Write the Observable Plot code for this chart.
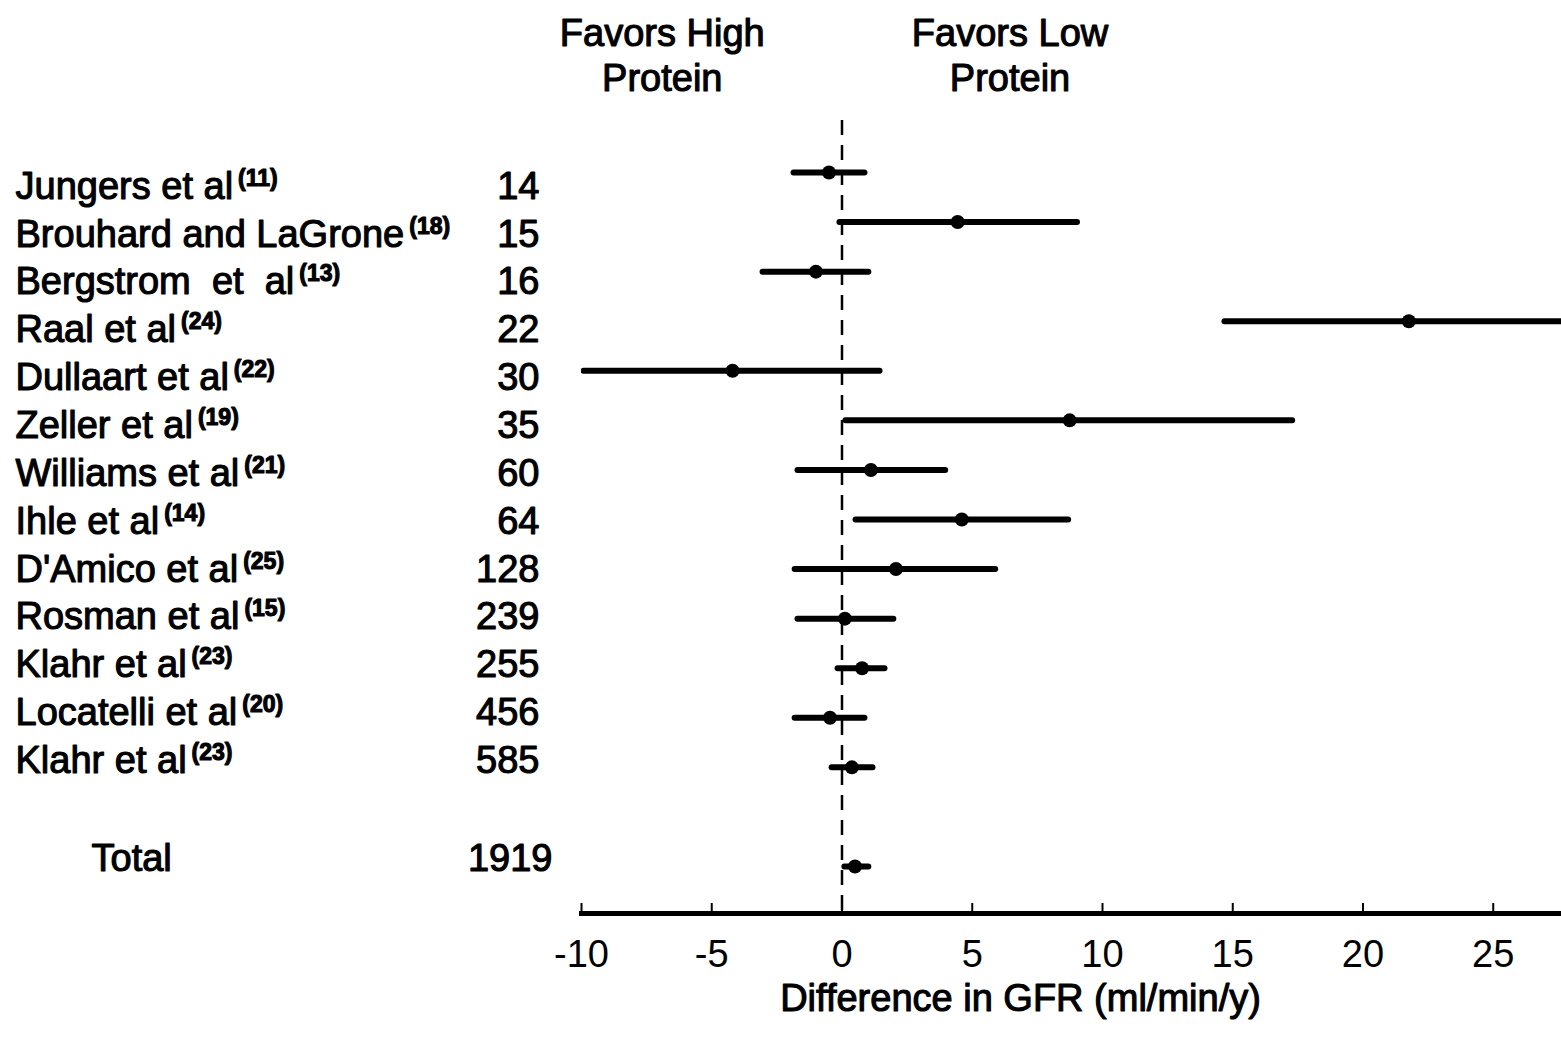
<!DOCTYPE html>
<html><head><meta charset="utf-8">
<script src="https://cdn.jsdelivr.net/npm/d3@7"></script>
<script src="https://cdn.jsdelivr.net/npm/@observablehq/plot@0.6"></script>
<style>html,body{margin:0;padding:0;background:#fff;overflow:hidden}
#chart{position:relative;width:1561px;height:1040px}
#chart svg{position:absolute;left:0;top:0}
</style>
</head><body><div id="chart"></div>
<script>
// ---- data ----
const studies = ["Jungers et al", "Brouhard and LaGrone", "Bergstrom\u00a0 et\u00a0 al", "Raal et al", "Dullaart et al", "Zeller et al", "Williams et al", "Ihle et al", "D'Amico et al", "Rosman et al", "Klahr et al", "Locatelli et al", "Klahr et al"];
const refs = ["(11)", "(18)", "(13)", "(24)", "(22)", "(19)", "(21)", "(14)", "(25)", "(15)", "(23)", "(20)", "(23)"];
const sampleSizes = [14, 15, 16, 22, 30, 35, 60, 64, 128, 239, 255, 456, 585];
const estimates = [-0.5, 4.44, -1.0, 21.76, -4.2, 8.74, 1.11, 4.6, 2.07, 0.11, 0.77, -0.46, 0.38];
const lower = [-1.84, -0.08, -3.03, 14.7, -9.9, 0.15, -1.69, 0.54, -1.8, -1.69, -0.15, -1.8, -0.38];
const upper = [0.88, 9.04, 1.03, 29, 1.46, 17.3, 3.98, 8.7, 5.9, 1.99, 1.65, 0.88, 1.19];
const totalLabel = "Total";
const totalN = 1919;
const totalEst = 0.5, totalLower = 0.11, totalUpper = 1.03;
const xTicks = [-10, -5, 0, 5, 10, 15, 20, 25];
const headerLabels = ["Favors High\nProtein", "Favors Low\nProtein"];
const headerCenters = [-6.9, 6.45];
const axisTitle = "Difference in GFR (ml/min/y)";

// ---- table ----
const rows = studies.map((name, i) => ({name, ref: refs[i], n: sampleSizes[i], est: estimates[i], lo: lower[i], hi: upper[i], row: i}));
const totalRow = [{name: totalLabel, n: totalN, est: totalEst, lo: totalLower, hi: totalUpper, row: studies.length + 1}];
const allRows = rows.concat(totalRow);
const headers = headerLabels.map((t, i) => ({t, x: headerCenters[i]}));

const FONT = 38;
const txt = {fill: "black", stroke: "black", strokeWidth: 1.1, fontSize: FONT};
const fontStyle = {fontFamily: "'Liberation Sans', Arial, sans-serif", background: "transparent", overflow: "visible"};

// main forest plot
const chart = Plot.plot({
  width: 1561,
  height: 1040,
  marginLeft: 581,
  marginRight: 0,
  marginTop: 120,
  marginBottom: 127,
  style: {...fontStyle, background: "white"},
  x: {domain: [-10, 27.62]},
  y: {domain: [0, studies.length + 1], range: [172, 866], axis: null},
  marks: [
    Plot.ruleX([0], {stroke: "black", strokeWidth: 2.5, strokeDasharray: "15,10"}),
    Plot.ruleY(allRows, {y: "row", x1: "lo", x2: "hi", stroke: "black", strokeWidth: 6, strokeLinecap: "round", clip: true}),
    Plot.dot(allRows, {x: "est", y: "row", r: 7, fill: "black", stroke: null}),
    Plot.tickX(xTicks, {x: d => d, stroke: "black", strokeWidth: 2, insetTop: 783}),
    Plot.frame({anchor: "bottom", stroke: "black", strokeWidth: 5}),
    Plot.axisX({ticks: xTicks, tickSize: 0, tickPadding: 27, tickFormat: d => String(d), fontSize: FONT, label: null, fill: "black", stroke: "black", strokeWidth: 1.1}),
    Plot.text([axisTitle], {frameAnchor: "bottom", lineAnchor: "middle", text: d => d, dx: -51, dy: 85, ...txt}),
    Plot.text(headers, {x: "x", text: "t", frameAnchor: "top", lineAnchor: "top", dy: -107, lineHeight: 1.2, ...txt})
  ]
});

// left-hand table of study names and sample sizes
const table = Plot.plot({
  width: 581,
  height: 1040,
  margin: 0,
  style: fontStyle,
  y: {domain: [0, studies.length + 1], range: [186, 856], axis: null},
  marks: [
    Plot.text(rows, {y: "row", text: "name", frameAnchor: "left", textAnchor: "start", dx: 15, ...txt}),
    Plot.text(rows, {y: "row", text: d => String(d.n), frameAnchor: "left", textAnchor: "end", dx: 539, ...txt}),
    Plot.text(totalRow, {y: "row", text: "name", frameAnchor: "left", textAnchor: "start", dx: 91, dy: 2, ...txt}),
    Plot.text(totalRow, {y: "row", text: d => String(d.n), frameAnchor: "left", textAnchor: "end", dx: 552, dy: 2, ...txt})
  ]
});

const root = document.getElementById("chart");
root.appendChild(chart);
root.appendChild(table);

// superscript reference numbers
const refByName = new Map(rows.map(r => [r.name, r.ref]));
d3.select(table).selectAll("text").each(function() {
  const t = this.textContent;
  if (refByName.has(t) && this.childElementCount === 0) {
    d3.select(this).append("tspan")
      .attr("dx", 5).attr("dy", -13)
      .attr("font-size", 23).attr("font-weight", "bold")
      .text(refByName.get(t));
  }
});
</script>
</body></html>
